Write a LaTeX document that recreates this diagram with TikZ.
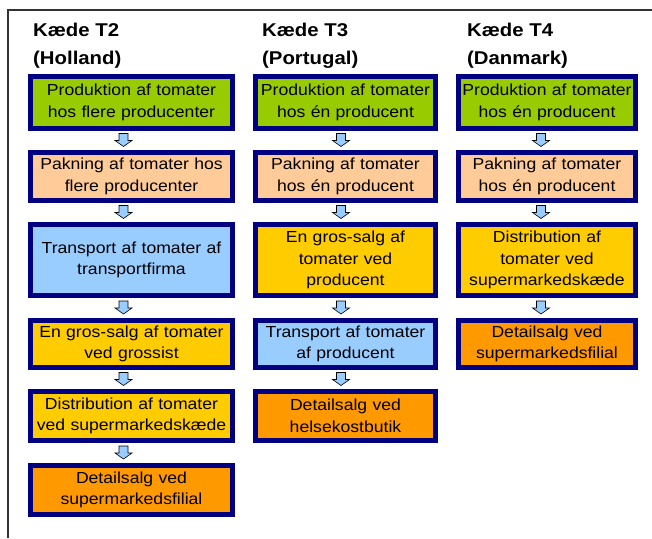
\documentclass[tikz,border=0pt]{standalone}
\usepackage{fontspec}
\setmainfont[FakeStretch=1.1]{Liberation Sans}
\usetikzlibrary{positioning}
\usetikzlibrary{calc}
\definecolor{kaedenavy}{RGB}{0,0,128}
\definecolor{prodgreen}{RGB}{153,204,0}
\definecolor{pakpeach}{RGB}{255,204,153}
\definecolor{transblue}{RGB}{153,204,255}
\definecolor{salggold}{RGB}{255,204,0}
\definecolor{detailorange}{RGB}{255,153,0}
\tikzset{stage/.style={rectangle,draw=kaedenavy,line width=5pt,text width=#1,inner xsep=2pt,inner ysep=0pt,align=center,font=\fontsize{16}{21.5}\selectfont}}
\tikzset{rowA/.style={minimum height=52pt}}
\tikzset{rowB/.style={minimum height=48pt}}
\tikzset{rowC/.style={minimum height=71pt}}
\tikzset{rowD/.style={minimum height=47pt}}
\tikzset{rowE/.style={minimum height=49pt}}
\tikzset{chaintitle/.style={anchor=north west,align=left,inner sep=0pt,font=\fontsize{18.5}{28}\selectfont\bfseries}}
\tikzset{flow/.style={draw=black,line width=0.6pt,fill=transblue,line join=miter}}
\tikzset{frame/.style={draw=black!80,line width=1.5pt}}
\newcommand{\flowarrow}[3]{\draw[flow,shift={($(#1.south)!0.5!(#2.north)+(#3,0)$)}] (-4.5,7) -- (4.5,7) -- (4.5,0) -- (8.5,0) -- (0,-6) -- (-8.5,0) -- (-4.5,0) -- cycle;}

\begin{document}
\begin{tikzpicture}[x=1pt,y=1pt]
  \useasboundingbox (0,0) rectangle (652,-538);
  % Frame
  \draw[frame] (652,-10) -- (8,-10) -- (8,-538);

  % Titles
  \node[chaintitle] (t2title) at (33,-23) {Kæde T2\\(Holland)};
  \node[chaintitle] (t3title) at (262,-23) {Kæde T3\\(Portugal)};
  \node[chaintitle] (t4title) at (467,-23) {Kæde T4\\(Danmark)};

  % Kaede T2
  \node[stage=198pt,fill=prodgreen,rowA,anchor=north] (t2prod) at (131.5,-74) {Produktion af tomater\\hos flere producenter};
  \node[stage=198pt,fill=pakpeach,rowB,below=19pt of t2prod] (t2pak) {Pakning af tomater hos\\flere producenter};
  \node[stage=198pt,fill=transblue,rowC,below=19pt of t2pak] (t2trans) {Transport af tomater af\\transportfirma};
  \node[stage=198pt,fill=salggold,rowD,below=20pt of t2trans] (t2gros) {En gros-salg af tomater\\ved grossist};
  \node[stage=198pt,fill=salggold,rowE,below=19pt of t2gros] (t2dist) {Distribution af tomater\\ved supermarkedskæde};
  \node[stage=198pt,fill=detailorange,rowE,below=20pt of t2dist] (t2detail) {Detailsalg ved\\supermarkedsfilial};

  % Kaede T3
  \node[stage=176pt,fill=prodgreen,rowA,anchor=north] (t3prod) at (345.5,-74) {Produktion af tomater\\hos én producent};
  \node[stage=176pt,fill=pakpeach,rowB,below=19pt of t3prod] (t3pak) {Pakning af tomater\\hos én producent};
  \node[stage=176pt,fill=salggold,rowC,below=19pt of t3pak] (t3gros) {En gros-salg af\\tomater ved\\producent};
  \node[stage=176pt,fill=transblue,rowD,below=20pt of t3gros] (t3trans) {Transport af tomater\\af producent};
  \node[stage=176pt,fill=detailorange,rowE,below=19pt of t3trans] (t3detail) {Detailsalg ved\\helsekostbutik};

  % Kaede T4
  \node[stage=173pt,fill=prodgreen,rowA,anchor=north] (t4prod) at (547,-74) {Produktion af tomater\\hos én producent};
  \node[stage=173pt,fill=pakpeach,rowB,below=19pt of t4prod] (t4pak) {Pakning af tomater\\hos én producent};
  \node[stage=173pt,fill=salggold,rowC,below=19pt of t4pak] (t4dist) {Distribution af\\tomater ved\\supermarkedskæde};
  \node[stage=173pt,fill=detailorange,rowD,below=20pt of t4dist] (t4detail) {Detailsalg ved\\supermarkedsfilial};

  % Arrows
  \foreach \a/\b in {t2prod/t2pak,t2pak/t2trans,t2trans/t2gros,t2gros/t2dist,t2dist/t2detail}
    \flowarrow{\a}{\b}{-8};
  \foreach \a/\b in {t3prod/t3pak,t3pak/t3gros,t3gros/t3trans,t3trans/t3detail}
    \flowarrow{\a}{\b}{-4.5};
  \foreach \a/\b in {t4prod/t4pak,t4pak/t4dist,t4dist/t4detail}
    \flowarrow{\a}{\b}{-6};
\end{tikzpicture}
\end{document}
